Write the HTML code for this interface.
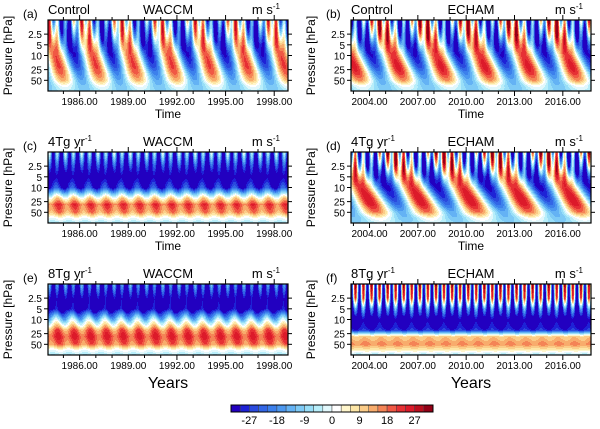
<!DOCTYPE html>
<html><head><meta charset="utf-8"><style>
body{margin:0;background:#fff;width:600px;height:429px;overflow:hidden;position:relative;font-family:"Liberation Sans",sans-serif}
canvas{position:absolute;image-rendering:pixelated}
svg{position:absolute;left:0;top:0}
</style></head><body>
<div id="wrap"></div>
<svg id="ov" width="600" height="429"></svg>
<script>
// shared pressure levels (hPa)
const levels=[1,2.5,5,10,20,30,50,70,100];
// colorbar levels
const cbTicks=[-27,-18,-9,0,9,18,27];
const colors=['#2200c0','#1e22d6','#2a4ade','#3266e6','#3c80ec','#4c98f0','#64b2f4','#7ecaf6','#98def8','#b8eefa','#e2f8fc','#ffffff','#fff6cc','#fde6a6','#fbcc88','#f8ac6c','#f48456','#f05844','#e63034','#dc1a2a','#bc0e1e','#940016'];
// panel a: Control WACCM
const meanA=[-8,-8,-7,-5,-2,0,-1,-5,-7];
const ampA=[20,23,26,26,24,20,14,7,3];
const saoA=[18,12,5,0,0,0,0,0,0];
const onsetsA=[1980.9,1983.3,1985.6,1987.9,1990.3,1992.6,1994.9,1997.2,1999.5];
// panel b: Control ECHAM
const meanB=[-4,-4,-5,-4,0,2,1,-5,-7];
const ampB=[22,25,27,27,26,22,15,7,3];
const saoB=[22,15,6,0,0,0,0,0,0];
const onsetsB=[1998.5,2001.2,2003.9,2006.6,2009.3,2012.0,2014.7,2017.4,2020.1];
// panel c: 4Tg WACCM
const meanC=[-18,-30,-36,-28,6,20,15,2,-6];
const ampC=[3,3,4,6,6,5,4,2,1];
const saoC=[18,8,2,0,0,0,0,0,0];
const onsetsC=[1983,1984,1985,1986,1987,1988,1989,1990,1991,1992,1993,1994,1995,1996,1997,1998,1999,2000];
// panel d: 4Tg ECHAM
const meanD=[-4,-6,-6,-4,0,2,2,-4,-6];
const ampD=[18,22,27,28,27,24,16,8,3];
const saoD=[26,18,6,0,0,0,0,0,0];
const onsetsD=[1998.2,2001.4,2004.6,2007.7,2010.9,2014.1,2017.2,2020.4];
// panel e: 8Tg WACCM
const meanE=[-26,-36,-34,-8,17,22,17,2,-6];
const ampE=[3,3,5,8,6,5,4,2,1];
const saoE=[14,6,2,0,0,0,0,0,0];
const onsetsE=[1983,1984,1985,1986,1987,1988,1989,1990,1991,1992,1993,1994,1995,1996,1997,1998,1999,2000];
// panel f: 8Tg ECHAM
const meanF=[0,-6,-26,-36,-28,10,16,7,-6];
const ampF=[2,2,3,3,2,1.5,1.5,1,1];
const saoF=[32,30,14,2,0,0,0,0,0];
const onsetsF=[2002,2003,2004,2005,2006,2007,2008,2009,2010,2011,2012,2013,2014,2015,2016,2017,2018,2019];

const W=240,H=71;
const panels=[
 {id:'a',x:48,y:20,t0:1984.05,t1:1998.85,mean:meanA,amp:ampA,sao:saoA,on:onsetsA,D:1.3,left:'Control',mid:'WACCM',ticks:[1986,1989,1992,1995,1998],xl:'Time',xly:118,xls:12},
 {id:'b',x:351,y:20,t0:2002.85,t1:2017.75,mean:meanB,amp:ampB,sao:saoB,on:onsetsB,D:1.8,left:'Control',mid:'ECHAM',ticks:[2004,2007,2010,2013,2016],xl:'Time',xly:118,xls:12},
 {id:'c',x:48,y:152,t0:1984.05,t1:1998.85,mean:meanC,amp:ampC,sao:saoC,on:onsetsC,D:0.6,left:'4Tg yr',mid:'WACCM',ticks:[1986,1989,1992,1995,1998],xl:'Time',xly:250,xls:12},
 {id:'d',x:351,y:152,t0:2002.85,t1:2017.75,mean:meanD,amp:ampD,sao:saoD,on:onsetsD,D:2.6,left:'4Tg yr',mid:'ECHAM',ticks:[2004,2007,2010,2013,2016],xl:'Time',xly:250,xls:12},
 {id:'e',x:48,y:284,t0:1984.05,t1:1998.85,mean:meanE,amp:ampE,sao:saoE,on:onsetsE,D:0.6,left:'8Tg  yr',mid:'WACCM',ticks:[1986,1989,1992,1995,1998],xl:'Years',xly:388,xls:16},
 {id:'f',x:351,y:284,t0:2002.85,t1:2017.75,mean:meanF,amp:ampF,sao:saoF,on:onsetsF,D:0.6,left:'8Tg  yr',mid:'ECHAM',ticks:[2004,2007,2010,2013,2016],xl:'Years',xly:388,xls:16}
];
function interpP(arr,lp){
  const ll=levels.map(v=>Math.log10(v));
  if(lp<=ll[0])return arr[0];
  for(let i=0;i<ll.length-1;i++){if(lp<=ll[i+1]){const f=(lp-ll[i])/(ll[i+1]-ll[i]);return arr[i]+f*(arr[i+1]-arr[i]);}}
  return arr[arr.length-1];
}
function phase(on,t){
  for(let k=0;k<on.length-1;k++){if(t<on[k+1]&&t>=on[k])return k+(t-on[k])/(on[k+1]-on[k]);}
  return 0;
}
const wrap=document.getElementById('wrap');
const svg=document.getElementById('ov');
const NS='http://www.w3.org/2000/svg';
function el(tag,attrs,txt){const e=document.createElementNS(NS,tag);for(const k in attrs)e.setAttribute(k,attrs[k]);if(txt!==undefined)e.textContent=txt;svg.appendChild(e);return e;}
const pTicks=[2.5,5,10,25,50];
panels.forEach(P=>{
  const c=document.createElement('canvas');c.width=W;c.height=H;
  c.style.left=P.x+'px';c.style.top=P.y+'px';
  
  
  wrap.appendChild(c);
  const g=c.getContext('2d');const img=g.createImageData(W,H);
  for(let y=0;y<H;y++){
    const lp=(y+0.5)/H*2;
    const m=interpP(P.mean,lp),a=interpP(P.amp,lp),s=interpP(P.sao,lp);
    for(let x=0;x<W;x++){
      const t=P.t0+(x+0.5)/W*(P.t1-P.t0);
      const ph=phase(P.on,t-P.D*lp/2);
      let u=m+a*Math.sin(2*Math.PI*ph)+s*Math.sin(2*Math.PI*2*t);
      let i=Math.floor((u+33)/3);i=Math.max(0,Math.min(21,i));
      const h=colors[i];const o=(y*W+x)*4;
      img.data[o]=parseInt(h.substr(1,2),16);img.data[o+1]=parseInt(h.substr(3,2),16);img.data[o+2]=parseInt(h.substr(5,2),16);img.data[o+3]=255;
    }
  }
  g.putImageData(img,0,0);
  el('rect',{x:P.x,y:P.y,width:W,height:H,fill:'none',stroke:'#000','stroke-width':1.2,});
  const sx=t=>P.x+(t-P.t0)/(P.t1-P.t0)*W;
  for(let yr=Math.ceil(P.t0);yr<=P.t1;yr++){
    const X=sx(yr);const maj=P.ticks.includes(yr);
    el('line',{x1:X,x2:X,y1:P.y+H,y2:P.y+H+(maj?5:3),stroke:'#000','stroke-width':1});
    el('line',{x1:X,x2:X,y1:P.y,y2:P.y-(maj?5:3),stroke:'#000','stroke-width':1});
  }
  P.ticks.forEach(yr=>{el('text',{x:sx(yr),y:P.y+H+14,'font-size':10,'text-anchor':'middle',},yr+'.00');});
  pTicks.forEach(p=>{
    const Y=P.y+Math.log10(p)/2*H;
    el('line',{x1:P.x-4,x2:P.x,y1:Y,y2:Y,stroke:'#000'});
    el('line',{x1:P.x+W,x2:P.x+W+4,y1:Y,y2:Y,stroke:'#000'});
    el('text',{x:P.x-6,y:Y+4,'font-size':10,'text-anchor':'end',},String(p));
  });
  el('text',{x:P.x-36,y:P.y+H/2,'font-size':12,'text-anchor':'middle',transform:`rotate(-90 ${P.x-36} ${P.y+H/2})`,},'Pressure [hPa]');
  el('text',{x:P.x-25,y:P.y-2,'font-size':12,},'('+P.id+')');
  const lt=el('text',{x:P.x,y:P.y-6,'font-size':13,},P.left);
  if(P.left.includes('yr')){const ts=document.createElementNS(NS,'tspan');ts.setAttribute('dy',-5);ts.setAttribute('font-size',8);ts.textContent='-1';lt.appendChild(ts);}
  el('text',{x:P.x+W/2,y:P.y-6,'font-size':13,'text-anchor':'middle',},P.mid);
  const ut=el('text',{x:P.x+W-8,y:P.y-6,'font-size':13,'text-anchor':'end',},'m s');
  const us=document.createElementNS(NS,'tspan');us.setAttribute('dy',-5);us.setAttribute('font-size',8);us.textContent='-1';ut.appendChild(us);
  el('text',{x:P.x+W/2,y:P.xly,'font-size':P.xls,'text-anchor':'middle',},P.xl);
});
// colorbar
const cbx=231,cby=405,cbw=202,cbh=7,bw=cbw/colors.length;
colors.forEach((c,i)=>{el('rect',{x:cbx+i*bw,y:cby,width:bw,height:cbh,fill:c,stroke:'#444','stroke-width':0.5,});});
el('rect',{x:cbx,y:cby,width:cbw,height:cbh,fill:'none',stroke:'#000','stroke-width':1,});
cbTicks.forEach(v=>{el('text',{x:cbx+(v+33)/3*bw,y:cby+19,'font-size':11,'text-anchor':'middle',},String(v));});
</script>
</body></html>
